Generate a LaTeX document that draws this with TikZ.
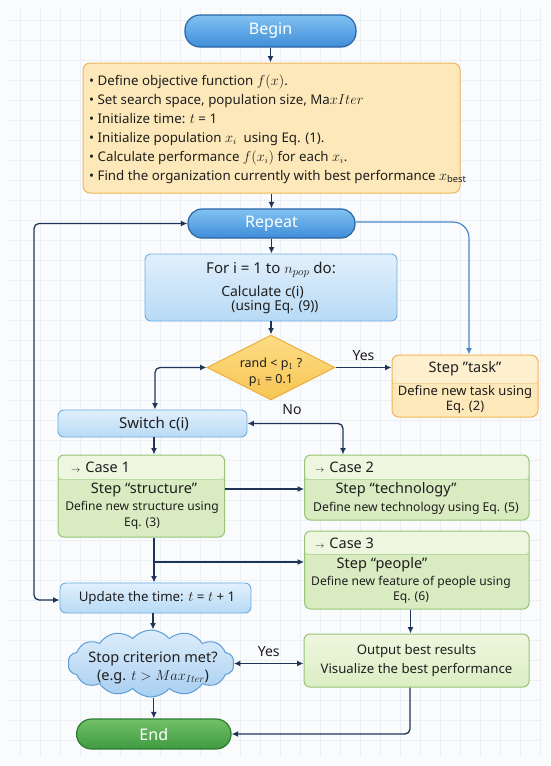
\documentclass[tikz,border=0pt]{standalone}
\usepackage{fontspec}
\setmainfont{Noto Sans}
\usetikzlibrary{shapes.geometric,shapes.symbols,arrows.meta,calc}
\definecolor{bgcol}{HTML}{FAFBFD}
\definecolor{gridcol}{HTML}{ECF0F6}
\definecolor{arrcol}{HTML}{1F3557}
\definecolor{lightarr}{HTML}{4A87C8}
\definecolor{txt}{HTML}{1E1E1E}
\definecolor{bluetop}{HTML}{82C2F3}
\definecolor{bluebot}{HTML}{3F8DD7}
\definecolor{bluebd}{HTML}{2A64A4}
\definecolor{lbtop}{HTML}{E2F0FC}
\definecolor{lbbot}{HTML}{B7DAF5}
\definecolor{lbbd}{HTML}{6AAEE3}
\definecolor{orfill}{HTML}{FDE8BA}
\definecolor{orhead}{HTML}{FEF0CF}
\definecolor{orbd}{HTML}{EFB55A}
\definecolor{ordiv}{HTML}{F2D59C}
\definecolor{diatop}{HTML}{FDDD85}
\definecolor{diabot}{HTML}{F7C553}
\definecolor{diabd}{HTML}{ECAE3E}
\definecolor{grhead}{HTML}{EEF6DF}
\definecolor{grbody}{HTML}{D8EBC1}
\definecolor{grbd}{HTML}{97C475}
\definecolor{grdiv}{HTML}{BCD9A0}
\definecolor{outtop}{HTML}{EEF7DE}
\definecolor{outbot}{HTML}{DCEEC4}
\definecolor{endtop}{HTML}{72C168}
\definecolor{endbot}{HTML}{3F9A40}
\definecolor{endbd}{HTML}{2E7B31}
\definecolor{cltop}{HTML}{DDEDFB}
\definecolor{clbot}{HTML}{A8CFF1}
\definecolor{clbd}{HTML}{5C9DD7}
\newcommand\myfs[2]{\fontsize{#1}{#2}\selectfont}
\tikzset{
  arr/.style={draw=arrcol, line width=1.3pt, -{Latex[length=6.5pt,width=6pt]}, rounded corners=5pt},
  arrtwo/.style={draw=arrcol, line width=1.3pt, {Latex[length=6.5pt,width=6pt]}-{Latex[length=6.5pt,width=6pt]}, rounded corners=5pt},
  arrlight/.style={draw=lightarr, line width=1.2pt, -{Latex[length=6.5pt,width=6pt]}, rounded corners=16pt},
  terminal/.style={rectangle, rounded corners=15pt, draw=bluebd, line width=1.2pt, top color=bluetop, bottom color=bluebot, text=white, font=\myfs{16}{18}\bfseries, inner sep=0pt},
  lbbox/.style={rectangle, rounded corners=6pt, draw=lbbd, line width=0.9pt, top color=lbtop, bottom color=lbbot, text=txt, inner sep=0pt},
  orbox/.style={rectangle, rounded corners=7pt, draw=orbd, line width=1pt, fill=orfill, inner sep=0pt},
  grbox/.style={rectangle, rounded corners=6pt, draw=grbd, line width=1pt, fill=grbody, inner sep=0pt},
  hdr/.style n args={3}{path picture={
      \fill[#1] (path picture bounding box.north west) rectangle ([yshift=-#3]path picture bounding box.north east);
      \draw[#2, line width=0.8pt] ([yshift=-#3]path picture bounding box.north west) -- ([yshift=-#3]path picture bounding box.north east);}},
  lbl/.style={text=txt, inner sep=0pt, align=center},
}
\begin{document}
\begin{tikzpicture}[x=1pt,y=-1pt]
\useasboundingbox (0,0) rectangle (550,766);
\fill[bgcol] (0,0) rectangle (550,766);
\draw[gridcol, line width=0.6pt] (8,8) grid[step=20pt] (542,756);

% nodes
\node[terminal, minimum width=171pt, minimum height=32pt] (begin) at (270.5,31) {Begin};
\node[orbox, minimum width=377pt, minimum height=130pt] (init) at (271.5,128) {};
\node[lbl, align=left, anchor=west, font=\myfs{13.3}{19}] (inittext) at (89,129)
 {• Define objective function $f(x)$.\\
  • Set search space, population size, Ma$xIter$\\
  • Initialize time: $t$ = 1\\
  • Initialize population $x_i$ \ using Eq. (1).\\
  • Calculate performance $f(x_i)$ for each $x_i$.\\
  • Find the organization currently with best performance $x_{\mathrm{best}}$};

\node[terminal, rounded corners=14pt, minimum width=167pt, minimum height=29pt] (repeat) at (271.5,223.5) {Repeat};

\node[lbbox, minimum width=252pt, minimum height=67pt] (for) at (271,287.5) {};
\node[lbl, font=\myfs{15}{17}] (fort1) at (271,270) {For i = 1 to $n_{pop}$ do:};
\node[lbl, font=\myfs{14}{16}] (fort2) at (262.5,292) {Calculate c(i)};
\node[lbl, font=\myfs{13.6}{16}] (fort3) at (275,307.5) {(using Eq. (9))};

\node[diamond, draw=diabd, line width=1pt, top color=diatop, bottom color=diabot, minimum width=128pt, minimum height=65pt, inner sep=0pt] (dia) at (271,367.5) {};
\node[lbl, font=\myfs{12.5}{16}] (diatext) at (271,372) {rand < p$_1$ ?\\p$_1$ = 0.1};

\node[orbox, hdr={orhead}{ordiv}{28pt}, minimum width=146pt, minimum height=62pt] (task) at (465,386) {};
\node[lbl, font=\myfs{14.5}{16}] (taskh) at (465,369) {Step \char34 task\char34};
\node[lbl, font=\myfs{13}{15.5}] (taskb) at (465,399.5) {Define new task using\\Eq. (2)};

\node[lbbox, minimum width=189pt, minimum height=27pt] (switch) at (152.5,423.5) {};
\node[lbl, font=\myfs{15}{17}] (switcht) at (154,423.5) {Switch c(i)};

\node[grbox, hdr={grhead}{grdiv}{24pt}, minimum width=166.6pt, minimum height=82pt] (case1) at (141.3,496) {};
\node[lbl, anchor=west, font=\myfs{14.5}{16}] (c1h) at (71,467.5) {{\small$\rightarrow$}\hspace{5pt}Case 1};
\node[lbl, font=\myfs{14.5}{16}] (c1s) at (144,490) {Step “structure”};
\node[lbl, font=\myfs{12.1}{15.5}] (c1d) at (142,515.5) {Define new structure using\\Eq. (3)};

\node[grbox, hdr={grhead}{grdiv}{24pt}, minimum width=224.4pt, minimum height=65pt] (case2) at (416.8,487.5) {};
\node[lbl, anchor=west, font=\myfs{14.5}{16}] (c2h) at (315,467.5) {{\small$\rightarrow$}\hspace{5pt}Case 2};
\node[lbl, font=\myfs{14.5}{16}] (c2s) at (396,490) {Step “technology”};
\node[lbl, font=\myfs{12.2}{15}] (c2d) at (416,508) {Define new technology using Eq. (5)};

\node[grbox, hdr={grhead}{grdiv}{23pt}, minimum width=224.4pt, minimum height=78pt] (case3) at (416.8,570) {};
\node[lbl, anchor=west, font=\myfs{14.5}{16}] (c3h) at (315,543.5) {{\small$\rightarrow$}\hspace{5pt}Case 3};
\node[lbl, font=\myfs{14.5}{16}] (c3s) at (382,565) {Step “people”};
\node[lbl, font=\myfs{12.1}{14.5}] (c3d) at (411,590) {Define new feature of people using\\Eq. (6)};

\node[lbbox, minimum width=191pt, minimum height=30pt] (update) at (155.5,598) {};
\node[lbl, font=\myfs{13.3}{16}] (updatet) at (157,598) {Update the time: $t$ = $t$ + 1};

\node[cloud, cloud puffs=14, cloud puff arc=100, aspect=2.5, draw=clbd, line width=1pt, top color=cltop, bottom color=clbot, minimum width=166pt, minimum height=67pt, inner sep=0pt] (stop) at (151,663.5) {};
\node[lbl, font=\myfs{14.5}{18}] (stopt) at (153,668) {Stop criterion met?\\(e.g. $t > Max_{Iter}$)};

\node[rectangle, rounded corners=6pt, draw=grbd, line width=1pt, top color=outtop, bottom color=outbot, minimum width=225pt, minimum height=53pt, inner sep=0pt, text=txt, align=center, font=\myfs{13.2}{19}] (output) at (416.5,660.5) {Output best results\\Visualize the best performance};

\node[terminal, draw=endbd, top color=endtop, bottom color=endbot, minimum width=154.5pt, minimum height=30pt] (end) at (153.8,734) {End};

% connectors
\draw[arr] (begin.south) -- (begin.south |- init.north);
\draw[arr] (init.south -| repeat.north) -- (repeat.north);
\draw[arr] (repeat.south) -- (repeat.south |- for.north);
\draw[arr] (for.south -| dia.north) -- (dia.north);
\draw[arr] (dia.east) -- (task.west |- dia.east) node[midway, above=3pt, text=txt, font=\myfs{14}{16}] (yes1) {Yes};
\draw[arrlight] ([yshift=1.5pt]repeat.east) -| ([xshift=4pt]task.north);
\draw[arrtwo] (dia.west) -| ([xshift=2.5pt]switch.north);
\node[lbl, font=\myfs{14}{16}] (no) at (292,410) {No};
\draw[arrtwo] (switch.east) -| ([xshift=-73.8pt]case2.north);
\draw[arr] ([xshift=1.5pt]switch.south) -- ([xshift=1.5pt]switch.south |- case1.north);
\draw[arr] ([yshift=7pt]case1.east) -- ([yshift=7pt]case1.east -| case2.west);
\coordinate (br) at (154,562);
\draw[arr] (case1.south -| br) -- (br |- update.north);
\draw[arr] (br) -- (br -| case3.west);
\coordinate (loopx) at (34,0);
\draw[arrtwo] ([yshift=-2pt]update.west) -| (loopx |- repeat.west) -- (repeat.west);
\draw[arr] ([xshift=-2.5pt]update.south) -- ([xshift=-2.5pt]update.south |- stop.north);
\draw[arrtwo] (stop.east) -- (output.west |- stop.east) node[midway, above=3pt, text=txt, font=\myfs{14}{16}] (yes2) {Yes};
\draw[arr] (end.north |- stop.south) -- (end.north);
\draw[arr] ([xshift=-6.3pt]case3.south) -- ([xshift=-6.3pt]case3.south |- output.north);
\draw[arr] ([xshift=-6.5pt]output.south) |- (end.east);
\end{tikzpicture}
\end{document}
